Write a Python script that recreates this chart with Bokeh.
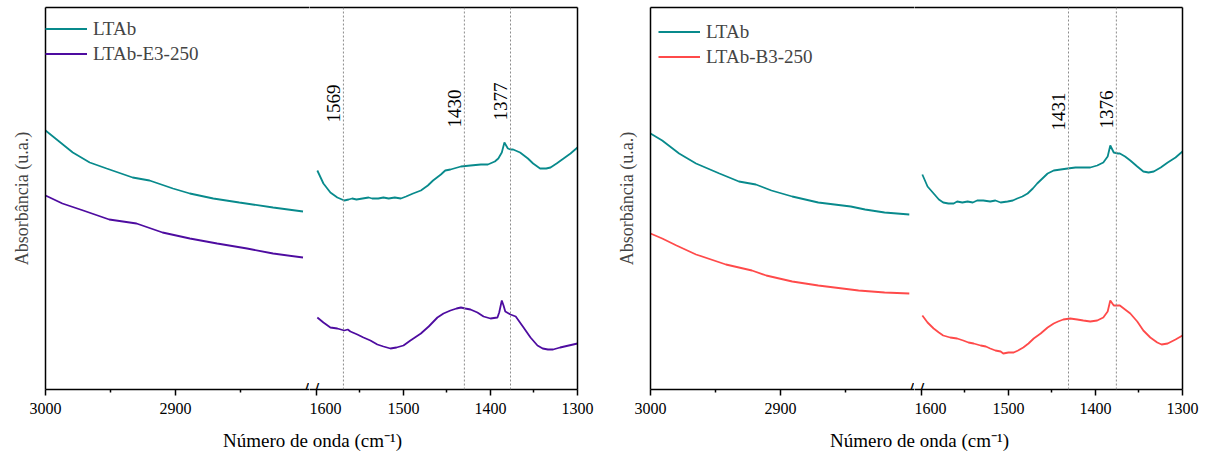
from bokeh.plotting import figure
from bokeh.models import Range1d, LinearAxis, FixedTicker, Span, Label, Legend, LegendItem
from bokeh.layouts import row, column
from bokeh.embed import file_html
from bokeh.resources import INLINE

# ---------------- data ----------------
# Left panel, high-wavenumber segment
p1_hi_wn_ltab = [3000, 2979, 2966, 2953, 2933, 2920, 2902, 2889, 2871, 2851, 2825, 2802]
p1_hi_ltab = [.259, .237, .227, .221, .212, .209, .201, .196, .191, .187, .182, .178]
p1_hi_wn_e3 = [3000, 2987, 2971, 2951, 2930, 2910, 2889, 2868, 2845, 2825, 2802]
p1_hi_e3 = [.194, .186, .179, .170, .166, .157, .151, .146, .141, .136, .132]

# Left panel, low-wavenumber segment
p1_lo_wn_ltab = [1599, 1592, 1584, 1576, 1568, 1563, 1559, 1554, 1547, 1540,
                 1536, 1529, 1523, 1517, 1510, 1503, 1497, 1489, 1480, 1472,
                 1466, 1457, 1452, 1446, 1434, 1423, 1411, 1403, 1395, 1391,
                 1387, 1384, 1380, 1377, 1374, 1366, 1357, 1351, 1343, 1336,
                 1331, 1324, 1316, 1308, 1300]
p1_lo_ltab = [.219, .206, .197, .192, .189, .190, .191, .190, .191, .192,
              .191, .191, .192, .191, .192, .191, .193, .196, .199, .204,
              .209, .215, .219, .220, .223, .224, .225, .225, .228, .231,
              .237, .247, .241, .240, .240, .237, .231, .226, .221, .221,
              .222, .226, .231, .236, .242]
p1_lo_wn_e3 = [1599, 1592, 1584, 1576, 1568, 1564, 1561, 1553, 1546, 1538,
               1530, 1523, 1515, 1508, 1500, 1492, 1480, 1471, 1461, 1454,
               1446, 1439, 1434, 1429, 1423, 1415, 1408, 1400, 1392, 1390,
               1387, 1385, 1383, 1377, 1371, 1362, 1354, 1346, 1340, 1334,
               1328, 1320, 1310, 1300]
p1_lo_e3 = [.072, .067, .062, .061, .059, .060, .058, .055, .052, .049,
            .045, .043, .041, .042, .044, .049, .056, .063, .072, .076,
            .079, .081, .082, .081, .080, .077, .073, .071, .072, .077,
            .089, .084, .078, .075, .073, .062, .052, .044, .041, .040,
            .040, .042, .044, .046]

# Right panel, high-wavenumber segment
p2_hi_wn_ltab = [3000, 2991, 2978, 2965, 2947, 2932, 2919, 2907, 2891, 2871, 2846, 2835, 2820, 2801]
p2_hi_ltab = [.256, .249, .236, .226, .216, .208, .205, .199, .193, .187, .183, .180, .177, .175]
p2_hi_wn_b3 = [3000, 2991, 2980, 2965, 2942, 2922, 2911, 2891, 2871, 2840, 2820, 2801]
p2_hi_b3 = [.156, .151, .144, .135, .125, .119, .114, .108, .104, .099, .097, .096]

# Right panel, low-wavenumber segment
p2_lo_wn_ltab = [1599, 1593, 1586, 1580, 1575, 1569, 1563, 1559, 1553, 1547,
                 1541, 1536, 1529, 1521, 1515, 1509, 1501, 1495, 1490, 1484,
                 1478, 1472, 1467, 1461, 1455, 1448, 1440, 1432, 1423, 1415,
                 1406, 1398, 1391, 1386, 1383, 1379, 1374, 1372, 1366, 1360,
                 1352, 1345, 1339, 1333, 1325, 1317, 1308, 1300]
p2_lo_ltab = [.215, .203, .196, .190, .187, .186, .186, .188, .187, .188,
              .187, .189, .189, .188, .189, .187, .188, .189, .191, .193,
              .196, .201, .206, .211, .216, .219, .220, .221, .222, .222,
              .222, .224, .227, .233, .244, .237, .236, .236, .233, .229,
              .223, .218, .217, .218, .222, .227, .232, .238]
p2_lo_wn_b3 = [1599, 1593, 1586, 1580, 1575, 1567, 1559, 1552, 1546, 1540,
               1532, 1526, 1521, 1515, 1509, 1506, 1500, 1494, 1489, 1483,
               1477, 1471, 1463, 1455, 1448, 1443, 1437, 1429, 1421, 1414,
               1406, 1398, 1391, 1386, 1383, 1379, 1374, 1372, 1366, 1360,
               1352, 1345, 1337, 1329, 1324, 1317, 1308, 1300]
p2_lo_b3 = [.074, .067, .061, .057, .054, .052, .051, .049, .047, .046,
            .044, .043, .041, .039, .038, .036, .037, .037, .039, .042,
            .046, .051, .056, .062, .066, .068, .070, .071, .070, .069,
            .068, .069, .072, .078, .089, .084, .084, .084, .080, .076,
            .068, .059, .052, .047, .045, .046, .050, .054]

# tick positions and peak markers
hi_ticks, hi_minor = [3000, 2900], [2950, 2850]
lo_ticks, lo_minor = [1600, 1500, 1400, 1300], [1550, 1450, 1350]
p1_peaks = [1569, 1430, 1377]
p1_peak_y = [.267, .262, .269]
p2_peaks = [1431, 1376]
p2_peak_y = [.259, .261]

series_names_1 = ["LTAb", "LTAb-E3-250"]
series_names_2 = ["LTAb", "LTAb-B3-250"]
x_title = "Número de onda (cm⁻¹)"
y_title = "Absorbância (u.a.)"

# ---------------- style ----------------
FONT = "Liberation Serif"
TEAL = "#088A8C"
PURPLE = "#4E0CA0"
RED = "#FF4A4A"
LW = 1.8
HI_RANGE = (3000, 2797)
LO_RANGE = (1608, 1300)
Y_RANGE = (0, 0.382)
H = 422
TOP = 7
FRAME_H = 382
A_W, B_W = 309, 296
A_LEFT, B_RIGHT = 45, 28
FRAME_A = A_W - A_LEFT
FRAME_B = B_W - B_RIGHT


def empty_axis():
    return LinearAxis(ticker=FixedTicker(ticks=[]), major_label_text_font_size="0px",
                      major_tick_out=0, major_tick_in=0, minor_tick_out=0, minor_tick_in=0,
                      major_label_standoff=0, axis_line_width=1.5, axis_line_color="black")


def x_axis(ticks, minor):
    return LinearAxis(ticker=FixedTicker(ticks=ticks, minor_ticks=minor),
                      axis_line_width=1.5, axis_line_color="black",
                      major_tick_line_width=1.5, minor_tick_line_width=1.5,
                      major_tick_out=6, major_tick_in=0, minor_tick_out=3, minor_tick_in=0,
                      major_label_text_font=FONT, major_label_text_font_size="16px",
                      major_label_text_color="black", major_label_standoff=7)


def base(width, xr, left, right):
    p = figure(width=width, height=H, x_range=Range1d(*xr), y_range=Range1d(*Y_RANGE),
               output_backend="svg", toolbar_location=None,
               x_axis_location=None, y_axis_location=None,
               min_border_left=left, min_border_right=right,
               min_border_top=TOP, min_border_bottom=H - TOP - FRAME_H)
    p.outline_line_color = None
    p.xgrid.visible = False
    p.ygrid.visible = False
    p.background_fill_color = "white"
    p.border_fill_color = "white"
    p.add_layout(empty_axis(), "above")
    return p


def slash(p, xr, frame_px, px_from_right):
    # oblique break mark "/" centred on the bottom axis line
    k = abs(xr[1] - xr[0]) / frame_px          # data units per pixel (decreasing axis)
    xc = xr[1] + px_from_right * k
    p.add_layout(Label(x=xc, y=Y_RANGE[0], text="/", text_align="center",
                       text_baseline="middle", text_font=FONT, text_font_size="20px",
                       text_font_style="bold", text_color="black"))


def panel(hi_data, lo_data, names, colors, peaks, peak_y, legend_xy, legend_spacing, title_cx):
    a = base(A_W, HI_RANGE, A_LEFT, 0)
    b = base(B_W, LO_RANGE, 0, B_RIGHT)
    ya = LinearAxis(ticker=FixedTicker(ticks=[]), major_label_text_font_size="0px",
                    major_tick_out=0, major_tick_in=0, minor_tick_out=0, minor_tick_in=0,
                    major_label_standoff=0, axis_line_width=1.5, axis_line_color="black",
                    axis_label=y_title, axis_label_text_font=FONT,
                    axis_label_text_font_size="18px", axis_label_text_font_style="normal",
                    axis_label_standoff=14)
    a.add_layout(ya, "left")
    a.add_layout(x_axis(hi_ticks, hi_minor), "below")
    b.add_layout(x_axis(lo_ticks, lo_minor), "below")
    b.add_layout(empty_axis(), "right")

    for w in peaks:
        b.add_layout(Span(location=w, dimension="height", line_color="#8c8c8c",
                          line_dash="2 2", line_width=1))

    rs = []
    for (wx, wy), c in zip(hi_data, colors):
        rs.append(a.line(wx, wy, line_color=c, line_width=LW))
    for (wx, wy), c in zip(lo_data, colors):
        b.line(wx, wy, line_color=c, line_width=LW)

    for w, yv in zip(peaks, peak_y):
        b.add_layout(Label(x=w, y=yv, text=str(w), angle=90, angle_units="deg",
                           text_align="left", text_baseline="alphabetic", x_offset=-10,
                           text_font=FONT, text_font_size="19px", text_color="black"))

    leg = Legend(items=[LegendItem(label=n, renderers=[r]) for n, r in zip(names, rs)],
                 location=legend_xy, padding=0, margin=0, spacing=legend_spacing,
                 glyph_width=42, glyph_height=25, label_height=25, label_standoff=6,
                 label_text_font=FONT, label_text_font_size="19px",
                 border_line_color=None, background_fill_alpha=0)
    a.add_layout(leg)

    slash(a, HI_RANGE, FRAME_A, 3.4)
    slash(b, LO_RANGE, FRAME_B, FRAME_B - 6.8)

    t = figure(width=A_W + B_W, height=452 - H, x_range=Range1d(0, A_W + B_W),
               y_range=Range1d(0, 452 - H), output_backend="svg", toolbar_location=None,
               x_axis_location=None, y_axis_location=None, min_border=0)
    t.outline_line_color = None
    t.xgrid.visible = False
    t.ygrid.visible = False
    t.add_layout(Label(x=title_cx, y=12, text=x_title, text_align="center",
                       text_baseline="middle", text_font=FONT, text_font_size="19px",
                       text_color="black"))
    return a, b, t


a1, b1, t1 = panel([(p1_hi_wn_ltab, p1_hi_ltab), (p1_hi_wn_e3, p1_hi_e3)],
                   [(p1_lo_wn_ltab, p1_lo_ltab), (p1_lo_wn_e3, p1_lo_e3)],
                   series_names_1, [TEAL, PURPLE], p1_peaks, p1_peak_y, (0, 323), 0, 312)
a2, b2, t2 = panel([(p2_hi_wn_ltab, p2_hi_ltab), (p2_hi_wn_b3, p2_hi_b3)],
                   [(p2_lo_wn_ltab, p2_lo_ltab), (p2_lo_wn_b3, p2_lo_b3)],
                   series_names_2, [TEAL, RED], p2_peaks, p2_peak_y, (8, 320), -3, 314)

layout = column(row(a1, b1, a2, b2), row(t1, t2))
open("out.html", "w").write(file_html(layout, INLINE))
